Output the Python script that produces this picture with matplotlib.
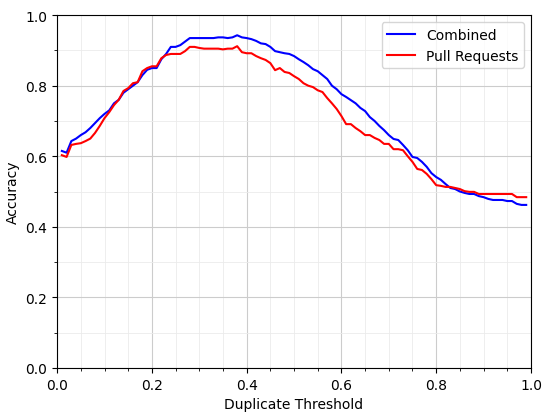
import matplotlib
matplotlib.use("Agg")
import matplotlib.pyplot as plt
import numpy as np
from matplotlib.ticker import MultipleLocator

thresholds = [round(0.01 * i, 2) for i in range(1, 100)]

combined = [
    0.615, 0.610, 0.643, 0.650, 0.660, 0.668, 0.680, 0.694, 0.708, 0.720,
    0.730, 0.750, 0.760, 0.780, 0.790, 0.800, 0.810, 0.830, 0.845, 0.850,
    0.850, 0.875, 0.890, 0.910, 0.910, 0.915, 0.925, 0.935, 0.935, 0.935,
    0.935, 0.935, 0.935, 0.937, 0.937, 0.935, 0.937, 0.943, 0.937, 0.935,
    0.932, 0.927, 0.920, 0.918, 0.910, 0.898, 0.895, 0.892, 0.890, 0.884,
    0.875, 0.867, 0.858, 0.847, 0.841, 0.830, 0.819, 0.800, 0.790, 0.776,
    0.768, 0.759, 0.750, 0.737, 0.728, 0.711, 0.700, 0.686, 0.674, 0.660,
    0.649, 0.646, 0.632, 0.617, 0.598, 0.595, 0.584, 0.570, 0.552, 0.541,
    0.533, 0.521, 0.510, 0.507, 0.500, 0.496, 0.493, 0.493, 0.487, 0.484,
    0.479, 0.476, 0.476, 0.476, 0.473, 0.473, 0.465, 0.462, 0.462,
]

pull_requests = [
    0.603, 0.598, 0.632, 0.635, 0.637, 0.643, 0.650, 0.666, 0.686, 0.708,
    0.725, 0.745, 0.760, 0.785, 0.793, 0.807, 0.810, 0.841, 0.850, 0.855,
    0.855, 0.878, 0.887, 0.890, 0.890, 0.890, 0.898, 0.910, 0.910, 0.907,
    0.905, 0.905, 0.905, 0.905, 0.903, 0.905, 0.905, 0.912, 0.895, 0.892,
    0.892, 0.884, 0.878, 0.873, 0.864, 0.844, 0.850, 0.839, 0.836, 0.827,
    0.819, 0.807, 0.800, 0.796, 0.787, 0.782, 0.765, 0.750, 0.734, 0.714,
    0.691, 0.691, 0.680, 0.671, 0.660, 0.660, 0.652, 0.646, 0.635, 0.635,
    0.620, 0.620, 0.617, 0.600, 0.584, 0.564, 0.561, 0.550, 0.535, 0.518,
    0.516, 0.513, 0.513, 0.510, 0.507, 0.501, 0.499, 0.499, 0.493, 0.493,
    0.493, 0.493, 0.493, 0.493, 0.493, 0.493, 0.484, 0.484, 0.484,
]

fig = plt.figure(figsize=(5.44, 4.14), dpi=100)
ax = fig.add_axes([0.105, 0.109, 0.871, 0.852])

ax.plot(thresholds, combined, color="blue", lw=1.5, label="Combined")
ax.plot(thresholds, pull_requests, color="red", lw=1.5, label="Pull Requests")

ax.set_xlim(0, 1)
ax.set_ylim(0, 1)
ax.xaxis.set_major_locator(MultipleLocator(0.2))
ax.xaxis.set_minor_locator(MultipleLocator(0.05))
ax.yaxis.set_major_locator(MultipleLocator(0.2))
ax.yaxis.set_minor_locator(MultipleLocator(0.1))
ax.grid(True, which="major", color="#cccccc", lw=0.8)
ax.grid(True, which="minor", color="#ebebeb", lw=0.6)
ax.set_axisbelow(True)

ax.set_xlabel("Duplicate Threshold")
ax.set_ylabel("Accuracy")
ax.legend(loc="upper right")

fig.savefig("out.png", dpi=100)
